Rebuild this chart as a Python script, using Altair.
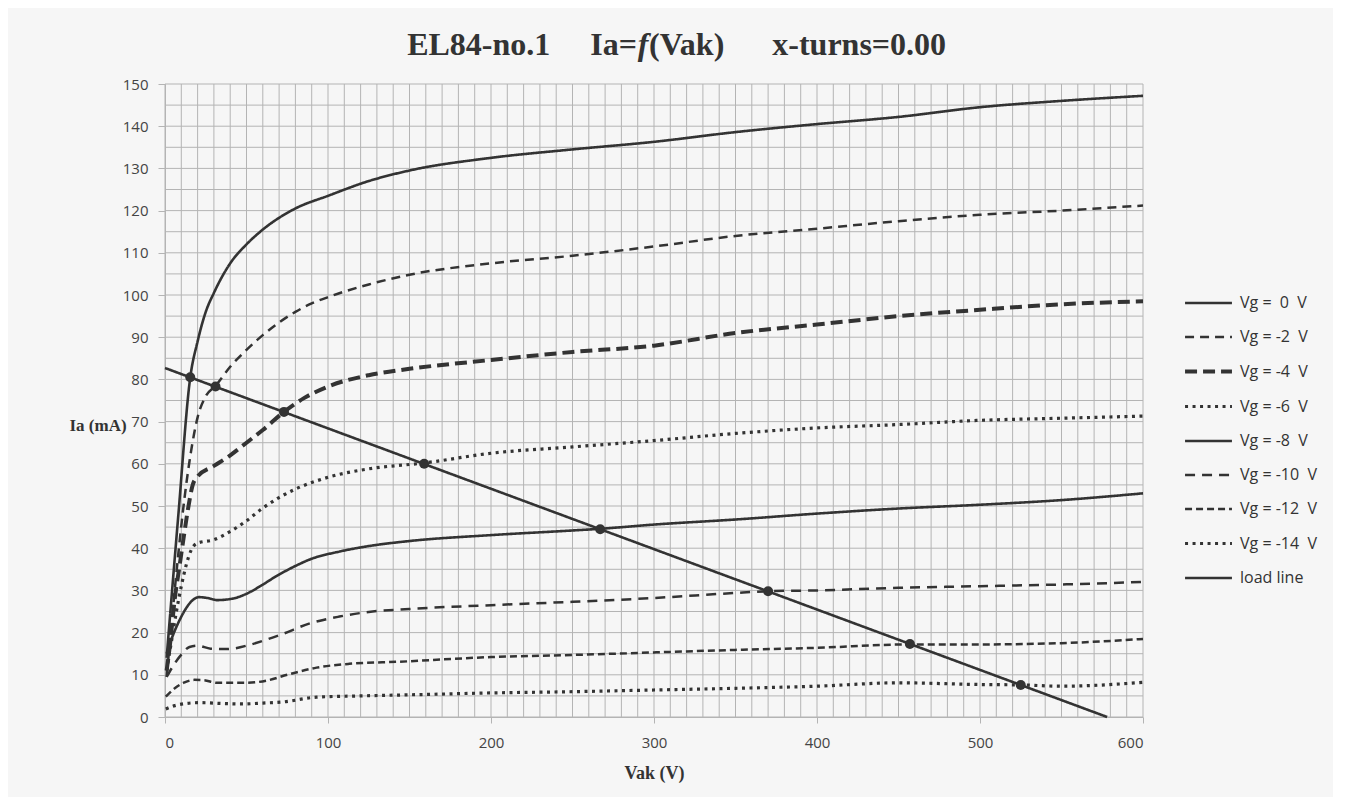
import altair as alt
import pandas as pd

NB = "\u00a0"
SERIES = [
    "Vg =" + NB * 2 + "0" + NB * 2 + "V",
    "Vg = -2" + NB * 2 + "V",
    "Vg = -4" + NB * 2 + "V",
    "Vg = -6" + NB * 2 + "V",
    "Vg = -8" + NB * 2 + "V",
    "Vg = -10" + NB * 2 + "V",
    "Vg = -12" + NB * 2 + "V",
    "Vg = -14" + NB * 2 + "V",
    "load line",
]
TITLE_LEFT = "EL84-no.1" + NB * 5 + "Ia="
TITLE_F = "f"
TITLE_RIGHT = "(Vak)" + NB * 6 + "x-turns=0.00"

vg0_v = [1, 8, 15.5, 20, 25, 30, 40, 50, 60, 80, 100, 125, 150, 200, 250, 300, 350, 400, 450, 500, 550, 600]
vg0_i = [14, 47, 80.5, 89, 96, 100.5, 107.5, 112, 115.5, 120.5, 123.5, 127, 129.5, 132.5, 134.5, 136.3, 138.6, 140.5, 142.2, 144.5, 146, 147.2]

vg2_v = [1, 4, 8, 12, 16, 20, 25, 31, 40, 50, 60, 70, 80, 90, 100, 125, 150, 200, 250, 300, 350, 400, 450, 500, 550, 600]
vg2_i = [9.5, 22, 38, 52, 63, 71, 76, 78.5, 83, 87, 90.5, 93.5, 96, 98, 99.5, 102.5, 104.8, 107.5, 109.3, 111.5, 114, 115.7, 117.5, 119, 120, 121.2]

vg4_v = [1, 3, 6, 9, 12, 14, 17, 20, 30, 40, 50, 60, 73, 85, 100, 125, 150, 200, 250, 300, 350, 400, 450, 500, 550, 600]
vg4_i = [11, 17, 28, 36, 44, 49, 55, 57, 59.5, 62, 65, 68, 72.3, 75.5, 78.3, 81, 82.5, 84.6, 86.5, 88, 91, 93, 95, 96.5, 97.8, 98.5]

vg6_v = [1, 4, 7, 10, 13, 16, 20, 30, 38, 50, 60, 70, 80, 100, 125, 159, 200, 250, 300, 350, 400, 450, 500, 550, 600]
vg6_i = [11, 18, 25, 31, 36, 39.5, 41.2, 42, 43.5, 46.5, 49.5, 52, 54, 56.8, 58.8, 60.2, 62.5, 64, 65.5, 67.2, 68.5, 69.3, 70.3, 70.8, 71.3]

vg8_v = [1, 5, 9, 13, 17, 21, 26, 32, 42, 50, 58, 68, 79, 90, 107, 125, 150, 200, 250, 267, 300, 350, 400, 450, 500, 550, 600]
vg8_i = [15, 19.5, 23, 25.8, 27.7, 28.4, 28.2, 27.7, 28.1, 29.2, 30.9, 33.3, 35.6, 37.5, 39.2, 40.5, 41.7, 43.1, 44.2, 44.6, 45.6, 46.8, 48.2, 49.4, 50.3, 51.4, 53]

vg10_v = [1, 4, 9, 15, 20, 28, 38, 52, 62, 71, 89, 107, 125, 150, 200, 250, 300, 350, 370, 400, 450, 500, 550, 600]
vg10_i = [9.5, 11.5, 14.3, 16.6, 16.9, 16.2, 16.1, 17.1, 18.3, 19.5, 22.2, 23.8, 24.9, 25.6, 26.5, 27.3, 28.2, 29.4, 29.8, 30, 30.6, 31, 31.4, 32]

vg12_v = [0.5, 6, 12, 18, 24, 32, 50, 62, 75, 93, 113, 144, 200, 250, 300, 350, 400, 457, 500, 550, 600]
vg12_i = [4.8, 6.8, 8.2, 8.8, 8.7, 8.1, 8.1, 8.6, 10, 11.7, 12.6, 13.1, 14.2, 14.7, 15.3, 15.9, 16.4, 17.2, 17.2, 17.5, 18.5]

vg14_v = [0.5, 6, 11, 21, 35, 48, 60, 73, 93, 120, 144, 200, 250, 300, 350, 400, 450, 500, 525, 550, 600]
vg14_i = [1.9, 2.7, 3.1, 3.4, 3.2, 3.1, 3.3, 3.6, 4.7, 5.0, 5.2, 5.7, 6.0, 6.4, 6.8, 7.3, 8.1, 7.7, 7.6, 7.3, 8.2]

load_v = [0, 578]
load_i = [82.7, 0]

dot_v = [15.5, 31, 73, 159, 267, 370, 457, 525]
dot_i = [80.5, 78.3, 72.3, 60.0, 44.5, 29.8, 17.3, 7.6]

GRID_X = list(range(0, 601, 10))
GRID_Y = list(range(0, 151, 5))
X_TICKS = [0, 100, 200, 300, 400, 500, 600]
Y_TICKS = list(range(0, 151, 10))

curves = [
    (vg0_v, vg0_i), (vg2_v, vg2_i), (vg4_v, vg4_i), (vg6_v, vg6_i),
    (vg8_v, vg8_i), (vg10_v, vg10_i), (vg12_v, vg12_i), (vg14_v, vg14_i),
    (load_v, load_i),
]
rows = []
for name, (vs, iss) in zip(SERIES, curves):
    for k, (v, i) in enumerate(zip(vs, iss)):
        rows.append({"series": name, "Vak": v, "Ia": i, "order": k})
df = pd.DataFrame(rows)
dots = pd.DataFrame({"Vak": dot_v, "Ia": dot_i})

INK = "#333333"
GRID = "#b4b4b4"
DASHES = [[1, 0], [9, 6], [12, 6], [3, 4.5], [1, 0], [10, 7], [7, 4], [3, 4.5], [1, 0]]
WIDTHS = [2.6, 2.5, 4.0, 3.2, 2.6, 2.5, 2.5, 3.2, 2.6]

xs = alt.Scale(domain=[0, 600], nice=False, zero=False)
ys = alt.Scale(domain=[0, 150], nice=False)

x_axis = alt.Axis(values=X_TICKS, grid=False, tickSize=6, tickColor=GRID,
                  domainColor=GRID, labelFont="Open Sans", labelFontSize=15,
                  labelColor="#444", labelPadding=12,
                  titleFont="Liberation Serif", titleFontSize=18, titleFontWeight="bold",
                  titleColor="#333", titlePadding=14)
y_axis = alt.Axis(values=Y_TICKS, grid=False, tickSize=7, tickColor=GRID,
                  domainColor=GRID, labelFont="Open Sans", labelFontSize=15,
                  labelColor="#444", labelPadding=10,
                  titleFont="Liberation Serif", titleFontSize=17, titleFontWeight="bold",
                  titleColor="#333", titleAngle=0, titleAlign="left",
                  titleBaseline="middle", titleX=-96, titleY=341)

vgrid = alt.Chart(pd.DataFrame({"g": GRID_X})).mark_rule(color=GRID, strokeWidth=1).encode(
    x=alt.X("g:Q", scale=xs, title="Vak (V)", axis=x_axis)
)
hgrid = alt.Chart(pd.DataFrame({"g": GRID_Y})).mark_rule(color=GRID, strokeWidth=1).encode(
    y=alt.Y("g:Q", scale=ys, title="Ia (mA)", axis=y_axis)
)

legend = alt.Legend(
    title=None, orient="none", legendX=1018, legendY=194,
    symbolType="stroke", symbolSize=2200, symbolStrokeColor=INK,
    labelFont="Open Sans", labelFontSize=16, labelColor="#333",
    rowPadding=1, labelOffset=6,
)

lines = alt.Chart(df).mark_line(interpolate="monotone", color=INK).encode(
    x=alt.X("Vak:Q", scale=xs, title="Vak (V)", axis=x_axis),
    y=alt.Y("Ia:Q", scale=ys, title="Ia (mA)", axis=y_axis),
    strokeDash=alt.StrokeDash("series:N", scale=alt.Scale(domain=SERIES, range=DASHES), legend=legend),
    strokeWidth=alt.StrokeWidth("series:N", scale=alt.Scale(type="ordinal", domain=SERIES, range=WIDTHS),
                                legend=legend),
    detail="series:N",
    order="order:Q",
)

points = alt.Chart(dots).mark_point(filled=True, color=INK, size=100, opacity=1).encode(
    x=alt.X("Vak:Q", scale=xs, title="Vak (V)", axis=x_axis),
    y=alt.Y("Ia:Q", scale=ys, title="Ia (mA)", axis=y_axis),
)

title_df = pd.DataFrame({"t": [0]})
TFS = 32
t_left = alt.Chart(title_df).mark_text(font="Liberation Serif", fontSize=TFS, fontWeight="bold",
                                       color="#333", baseline="alphabetic", align="right").encode(
    x=alt.value(472), y=alt.value(-29), text=alt.value(TITLE_LEFT))
t_f = alt.Chart(title_df).mark_text(font="Liberation Serif", fontSize=TFS, fontWeight="bold",
                                    fontStyle="italic", color="#333", baseline="alphabetic", align="center").encode(
    x=alt.value(478), y=alt.value(-29), text=alt.value(TITLE_F))
t_right = alt.Chart(title_df).mark_text(font="Liberation Serif", fontSize=TFS, fontWeight="bold",
                                        color="#333", baseline="alphabetic", align="left").encode(
    x=alt.value(484), y=alt.value(-29), text=alt.value(TITLE_RIGHT))

chart = alt.layer(vgrid, hgrid, lines, points, t_left, t_f, t_right).properties(
    width=978, height=633,
    padding={"left": 157, "top": 76, "right": 190, "bottom": 80},
    autosize=alt.AutoSizeParams(type="none"),
).configure(background="#f6f6f6").configure_view(stroke=None)

chart.save("out.html", embed_options={"renderer": "svg", "actions": False})
